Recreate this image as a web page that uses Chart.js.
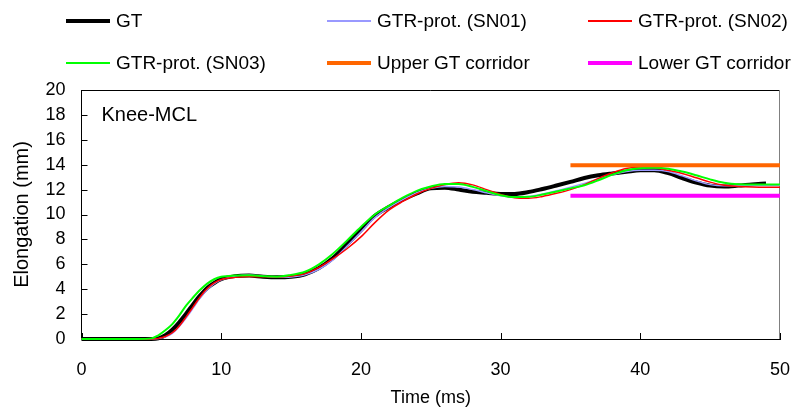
<!DOCTYPE html>
<html>
<head>
<meta charset="utf-8">
<script src="https://cdn.jsdelivr.net/npm/chart.js@4.4.1/dist/chart.umd.min.js"></script>
<style>
  body { margin: 0; background: #fff; }
  #wrap { position: relative; width: 798px; height: 412px; overflow: hidden; }
  #legend { position: absolute; left: 0; top: 0; width: 798px; height: 85px;
            font-family: "Liberation Sans", Arial, sans-serif; font-size: 19px; color: #000; }
  .lg-item { position: absolute; height: 24px; display: flex; align-items: center; white-space: nowrap; }
  .lg-line { width: 44px; margin-right: 6px; }
</style>
</head>
<body>
<div id="wrap">
  <canvas id="chart" width="798" height="412"></canvas>
  <div id="legend"></div>
</div>
<script>
// ── Données ────────────────────────────────────────────────────────────
const TIME = [0, 2, 4, 5, 5.5, 6, 6.5, 7, 7.5, 8, 8.5, 9, 9.5, 10, 11, 12, 13, 14, 15, 16, 17, 18, 19, 20,
  21, 22, 23, 24, 25, 26, 27, 28, 29, 30, 31, 32, 33, 34, 35, 36, 37, 38, 39, 40,
  41, 42, 43, 44, 45, 46, 47, 48, 49, 50];

const GT = [0, 0, 0, 0, 0.05, 0.3, 0.75, 1.35, 2.05, 2.8, 3.5, 4.1, 4.5, 4.8, 5.05, 5.1, 5.0, 4.95, 5.0, 5.2, 5.7, 6.5, 7.6, 8.75,
  9.9, 10.6, 11.2, 11.7, 12.1, 12.15, 12.0, 11.82, 11.74, 11.65, 11.65, 11.8, 12.05, 12.33, 12.62, 12.93, 13.15, 13.3, 13.43, 13.55,
  13.55, 13.32, 12.93, 12.57, 12.32, 12.25, 12.32, 12.42, 12.5, null];

const SN01 = [0, 0, 0, 0, 0.03, 0.15, 0.45, 1.0, 1.7, 2.5, 3.3, 3.95, 4.45, 4.75, 5.05, 5.15, 5.05, 4.95, 4.98, 5.15, 5.6, 6.35, 7.45, 8.6,
  9.75, 10.55, 11.2, 11.75, 12.1, 12.25, 12.2, 12.0, 11.75, 11.5, 11.4, 11.45, 11.65, 11.9, 12.2, 12.5, 12.85, 13.2, 13.45, 13.55,
  13.55, 13.45, 13.1, 12.7, 12.4, 12.3, 12.3, 12.32, 12.33, 12.33];

const SN02 = [0, 0, 0, 0, 0.05, 0.2, 0.5, 1.05, 1.8, 2.6, 3.4, 4.05, 4.5, 4.78, 4.95, 5.02, 5.0, 4.98, 5.05, 5.25, 5.75, 6.45, 7.25, 8.2,
  9.35, 10.35, 11.05, 11.65, 12.1, 12.4, 12.55, 12.38, 12.0, 11.6, 11.35, 11.3, 11.45, 11.7, 12.0, 12.4, 12.9, 13.35, 13.7, 13.82,
  13.75, 13.55, 13.3, 12.95, 12.6, 12.35, 12.25, 12.2, 12.18, 12.18];

const SN03 = [0, 0, 0, 0.05, 0.3, 0.7, 1.2, 1.9, 2.7, 3.35, 3.95, 4.45, 4.8, 5.0, 5.1, 5.12, 5.05, 5.0, 5.15, 5.4, 6.0, 6.85, 7.9, 9.0,
  10.0, 10.7, 11.35, 11.9, 12.25, 12.45, 12.45, 12.22, 11.88, 11.55, 11.4, 11.42, 11.6, 11.85, 12.1, 12.35, 12.75, 13.2, 13.55, 13.72,
  13.75, 13.68, 13.45, 13.15, 12.82, 12.55, 12.42, 12.4, 12.4, 12.4];

const CORRIDOR_TIME = [35, 50];
const UPPER = [13.95, 13.95];
const LOWER = [11.5, 11.5];

const LABELS = ["GT", "GTR-prot. (SN01)", "GTR-prot. (SN02)", "GTR-prot. (SN03)", "Upper GT corridor", "Lower GT corridor"];
const COLORS = ["#000000", "#9999ff", "#ff0000", "#00ff00", "#ff6600", "#ff00ff"];
const WIDTHS = [4, 1.5, 1.5, 2, 4, 4];

const X_TICKS = [0, 10, 20, 30, 40, 50];
const Y_TICKS = [0, 2, 4, 6, 8, 10, 12, 14, 16, 18, 20];

const FONT = "'Liberation Sans', Arial, sans-serif";

// ── Légende HTML (grille 3 x 2) ─────────────────────────────────────────
const LEGEND_POS = [[66, 9], [327, 9], [588, 9], [66, 51], [327, 51], [588, 51]];
const legend = document.getElementById("legend");
LABELS.forEach((lab, i) => {
  const el = document.createElement("div");
  el.className = "lg-item";
  el.style.left = LEGEND_POS[i][0] + "px";
  el.style.top = LEGEND_POS[i][1] + "px";
  const ln = document.createElement("span");
  ln.className = "lg-line";
  ln.style.height = WIDTHS[i] + "px";
  ln.style.background = COLORS[i];
  el.appendChild(ln);
  el.appendChild(document.createTextNode(lab));
  legend.appendChild(el);
});

const toXY = (xs, ys) => xs.map((x, i) => ({ x, y: ys[i] }));
const series = [
  toXY(TIME, GT), toXY(TIME, SN01), toXY(TIME, SN02), toXY(TIME, SN03),
  toXY(CORRIDOR_TIME, UPPER), toXY(CORRIDOR_TIME, LOWER)
];
const ORDER = [6, 5, 4, 3, 2, 1];

// ── Cadre, graduations intérieures, étiquette ──────────────────────────
const frame = {
  id: "frame",
  beforeDatasetsDraw(chart) {
    const { ctx, chartArea: a, scales: { x, y } } = chart;
    ctx.save();
    ctx.strokeStyle = "#000";
    ctx.lineWidth = 1;
    ctx.beginPath();
    Y_TICKS.forEach(v => {
      const py = Math.round(y.getPixelForValue(v)) + 0.5;
      ctx.moveTo(a.left, py); ctx.lineTo(a.left + 6, py);
    });
    X_TICKS.forEach(v => {
      const px = Math.round(x.getPixelForValue(v)) + 0.5;
      ctx.moveTo(px, a.bottom); ctx.lineTo(px, a.bottom - 6);
    });
    ctx.moveTo(a.left, a.top + 0.5); ctx.lineTo(a.right, a.top + 0.5);
    ctx.stroke();
    ctx.strokeStyle = "#808080";
    ctx.beginPath();
    ctx.moveTo(a.right - 0.5, a.top); ctx.lineTo(a.right - 0.5, a.bottom);
    ctx.stroke();
    ctx.fillStyle = "#000";
    ctx.font = "20px " + FONT;
    ctx.textBaseline = "middle";
    ctx.fillText("Knee-MCL", a.left + 20, a.top + 25);
    ctx.restore();
  }
};

new Chart(document.getElementById("chart"), {
  type: "line",
  data: {
    datasets: series.map((d, i) => ({
      label: LABELS[i],
      data: d,
      borderColor: COLORS[i],
      backgroundColor: COLORS[i],
      borderWidth: WIDTHS[i],
      pointRadius: 0,
      tension: 0.4,
      cubicInterpolationMode: "monotone",
      spanGaps: false,
      fill: false,
      clip: 4,
      order: ORDER[i],
    }))
  },
  options: {
    responsive: false,
    animation: false,
    events: [],
    layout: { padding: { top: 90, right: 18, left: 0, bottom: 0 } },
    plugins: { legend: { display: false }, tooltip: { enabled: false } },
    scales: {
      x: {
        type: "linear", min: 0, max: 50,
        afterBuildTicks: s => { s.ticks = X_TICKS.map(v => ({ value: v })); },
        afterFit: s => { s.height = 73; s.paddingLeft = 0; s.paddingRight = 0; },
        grid: { display: true, drawOnChartArea: false, drawTicks: false },
        border: { color: "#000", width: 1 },
        ticks: { color: "#000", font: { family: FONT, size: 18 }, padding: 20, maxRotation: 0 },
        title: { display: true, text: "Time (ms)", color: "#000", font: { family: FONT, size: 18 }, padding: { top: 0, bottom: 3 } },
      },
      y: {
        type: "linear", min: 0, max: 20,
        afterBuildTicks: s => { s.ticks = Y_TICKS.map(v => ({ value: v })); },
        afterFit: s => { s.width = 81.5; s.paddingTop = 0; s.paddingBottom = 0; },
        grid: { display: true, drawOnChartArea: false, drawTicks: false },
        border: { color: "#000", width: 1 },
        ticks: { color: "#000", font: { family: FONT, size: 18 }, padding: 16 },
        title: { display: true, text: "Elongation (mm)", color: "#000", font: { family: FONT, size: 20 }, padding: { top: 10, bottom: 0 } },
      }
    }
  },
  plugins: [frame]
});
</script>
</body>
</html>
